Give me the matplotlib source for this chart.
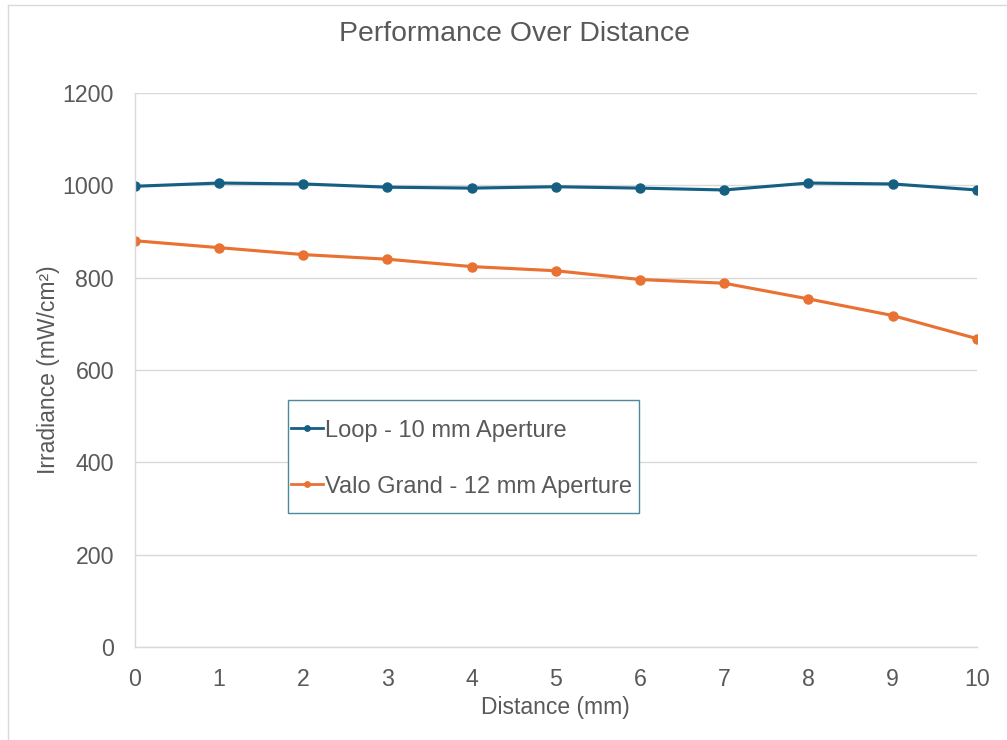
import matplotlib.pyplot as plt
from matplotlib.lines import Line2D
from matplotlib.patches import Rectangle

plt.rcParams['font.family'] = ['Liberation Sans', 'DejaVu Sans']

distance = [0, 1, 2, 3, 4, 5, 6, 7, 8, 9, 10]
loop_10mm = [998, 1005, 1003, 996, 994, 997, 994, 990, 1005, 1003, 990]
valo_12mm = [880, 865, 850, 840, 824, 815, 796, 788, 754, 718, 668]
y_ticks = [0, 200, 400, 600, 800, 1000, 1200]

blue = '#156082'
orange = '#E97132'
text_gray = '#595959'
grid_gray = '#D9D9D9'

fig = plt.figure(figsize=(10.07, 7.40), dpi=100)
ax = fig.add_axes([0.134, 0.1257, 0.836, 0.7486])

ax.plot(distance, loop_10mm, color=blue, lw=2.25, marker='o', ms=6.5,
        label='Loop - 10 mm Aperture')
ax.plot(distance, valo_12mm, color=orange, lw=2.25, marker='o', ms=6.5,
        label='Valo Grand - 12 mm Aperture')

ax.set_xlim(0, 10)
ax.set_ylim(0, 1200)
ax.set_xticks(distance)
ax.set_yticks(y_ticks)
ax.grid(axis='y', color=grid_gray, lw=1)
ax.set_axisbelow(True)
for s in ['top', 'right']:
    ax.spines[s].set_visible(False)
for s in ['left', 'bottom']:
    ax.spines[s].set_color(grid_gray)
    ax.spines[s].set_linewidth(1)
ax.tick_params(length=0, labelsize=16.7, labelcolor=text_gray)
ax.tick_params(axis='x', pad=15)
ax.tick_params(axis='y', pad=15)

ax.set_xlabel('Distance (mm)', fontsize=16.5, color=text_gray, labelpad=4)
ax.set_ylabel('Irradiance (mW/cm²)', fontsize=16.5, color=text_gray, labelpad=2)
fig.text(0.511, 0.954, 'Performance Over Distance', ha='center', va='center',
         fontsize=20.4, color=text_gray)

# legend box drawn separately so its size matches the reference
ax.add_patch(Rectangle((0.1817, 0.2419), 0.417, 0.204, transform=ax.transAxes,
                       facecolor='white', edgecolor='#4A8A9A', lw=1, zorder=4))
leg = ax.legend(loc='center left', bbox_to_anchor=(0.1853, 0.340),
                borderaxespad=0, borderpad=0, fontsize=17, labelcolor=text_gray,
                frameon=False, handlelength=1.35, handletextpad=0.1,
                markerscale=0.6, labelspacing=1.45)
leg.set_zorder(5)
for h in leg.get_lines():
    h.set_linewidth(2)

# chart border (left and top edges visible)
fig.add_artist(Line2D([0.008, 0.008], [0, 0.993], transform=fig.transFigure,
                      color=grid_gray, lw=1))
fig.add_artist(Line2D([0.008, 1], [0.993, 0.993], transform=fig.transFigure,
                      color=grid_gray, lw=1))

fig.savefig('out.png', dpi=100)
